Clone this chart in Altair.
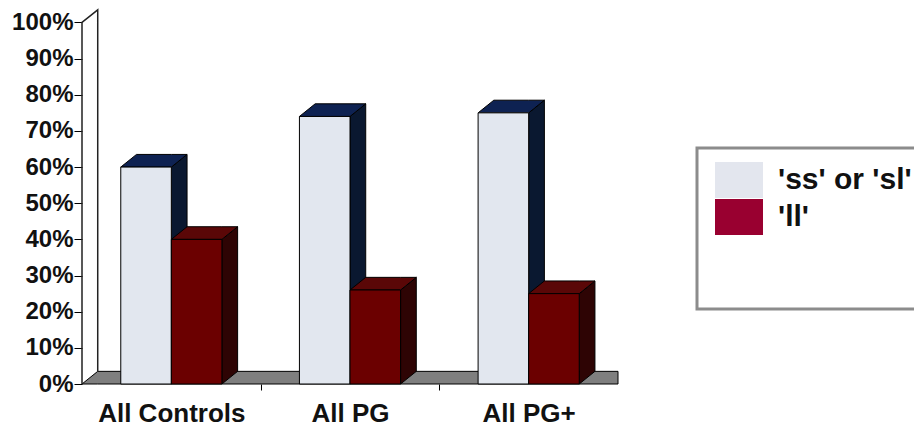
import json
import altair as alt
import pandas as pd

# ---- data ----
categories = ["All Controls", "All PG", "All PG+"]
series_names = ["'ss' or 'sl'", "'ll'"]
ss_or_sl = [60, 74, 75]
ll = [40, 26, 25]
y_ticks = [0, 10, 20, 30, 40, 50, 60, 70, 80, 90, 100]

# ---- styling ----
front_colors = {"'ss' or 'sl'": "#e2e7ef", "'ll'": "#6b0000"}
top_colors = {"'ss' or 'sl'": "#0e2252", "'ll'": "#5a0707"}
side_colors = {"'ss' or 'sl'": "#0a1830", "'ll'": "#2e0404"}
legend_colors = ["#e3e6ee", "#990030"]
FONT = "Liberation Sans"

BW = 0.283   # bar width in category units
DX = 0.088   # 3D depth, x (category units)
DY = 3.5     # 3D depth, y (percent units)
YMAX = 104

rows, tops, sides = [], [], []
for i, c in enumerate(categories):
    for j, (s, vals) in enumerate(zip(series_names, [ss_or_sl, ll])):
        v = vals[i]
        x0 = i + 0.5 - BW + j * BW
        x1 = x0 + BW
        bid = f"{i}-{j}"
        rows.append(dict(cat=c, series=s, bar=bid, v=v, base=0, x0=x0, x1=x1))
        for px, py, py2 in [(x0, v, v), (x0 + DX, v + DY, v), (x1, v + DY, v), (x1 + DX, v + DY, v + DY)]:
            tops.append(dict(series=s, bar=bid, x=px, y=py, y2=py2))
        for px, py, py2 in [(x1, v, 0), (x1 + DX, v + DY, DY)]:
            sides.append(dict(series=s, bar=bid, x=px, y=py, y2=py2))

bars = pd.DataFrame(rows)
tops = pd.DataFrame(tops)
sides = pd.DataFrame(sides)

floor = pd.DataFrame([dict(x=0, y=0, y2=0), dict(x=DX, y=DY, y2=0), dict(x=len(categories), y=DY, y2=0)])
wall = pd.DataFrame([dict(o=0, x=0, y=0), dict(o=1, x=0, y=100), dict(o=2, x=DX, y=100 + DY), dict(o=3, x=DX, y=DY)])

xscale = alt.Scale(domain=[0, len(categories)], nice=False, zero=False)
yscale = alt.Scale(domain=[0, YMAX], nice=False, zero=False)

cat_js = "[" + ",".join(json.dumps(c) for c in categories) + "]"
xaxis = alt.Axis(
    values=[0.5, 1, 1.5, 2, 2.5],
    labelExpr=f"datum.value % 1 === 0 ? '' : {cat_js}[floor(datum.value)]",
    tickOpacity={"condition": {"test": "datum.value % 1 === 0", "value": 1}, "value": 0},
    tickSize=6, tickColor="black", domain=False, grid=False,
    labelFont=FONT, labelFontSize=26, labelFontWeight="bold", labelColor="#111",
    labelPadding=10, labelOverlap=False, labelFlush=False, labelAngle=0, title=None,
)
yaxis = alt.Axis(
    values=y_ticks, labelExpr="datum.value + '%'",
    tickSize=8, tickColor="black", domain=False, grid=False,
    labelFont=FONT, labelFontSize=24, labelFontWeight="bold", labelColor="#111",
    labelPadding=1, title=None,
)


def X(f):
    return alt.X(f"{f}:Q", scale=xscale, axis=xaxis)


def Y(f):
    return alt.Y(f"{f}:Q", scale=yscale, axis=yaxis)


floor_layer = alt.Chart(floor).mark_area(color="#7f7f7f", stroke="black", strokeWidth=1).encode(
    x=X("x"), y=Y("y"), y2="y2"
)
wall_layer = alt.Chart(wall).mark_line(color="#222", strokeWidth=1.5).encode(
    x=X("x"), y=Y("y"), order="o:Q"
)

layers = [floor_layer, wall_layer]
for s in series_names:
    side = alt.Chart(sides[sides.series == s]).mark_area(
        color=side_colors[s], stroke="black", strokeWidth=1
    ).encode(x=X("x"), y=Y("y"), y2="y2", detail="bar:N")
    top = alt.Chart(tops[tops.series == s]).mark_area(
        color=top_colors[s], stroke="black", strokeWidth=1
    ).encode(x=X("x"), y=Y("y"), y2="y2", detail="bar:N")
    front = alt.Chart(bars[bars.series == s]).mark_rect(
        color=front_colors[s], stroke="black", strokeWidth=1
    ).encode(x=X("x0"), x2="x1", y=Y("v"), y2="base")
    layers += [side, top, front]

sym_path = "M-1.263,-0.947H1.263V0.947H-1.263Z"
legend_layer = alt.Chart(bars).mark_point(opacity=0).encode(
    x=X("x0"), y=Y("v"),
    fill=alt.Fill(
        "series:N",
        scale=alt.Scale(domain=series_names, range=legend_colors),
        legend=alt.Legend(
            title=" ", orient="none", legendX=615, legendY=140, padding=13,
            symbolType=sym_path, symbolSize=1444, symbolOffset=10, symbolOpacity=1,
            symbolStrokeWidth=0, labelOffset=20, rowPadding=0,
            labelFont=FONT, labelFontSize=30, labelFontWeight="bold", labelColor="#111",
            labelLimit=400, titleOrient="bottom", titlePadding=51, titleFontSize=10,
            strokeColor="#8c8c8c", fillColor="white",
        ),
    ),
)
layers.append(legend_layer)

chart = alt.layer(*layers).properties(
    width=536, height=376,
    autosize=alt.AutoSizeParams(type="none"),
    padding={"left": 74, "top": 0, "right": 296, "bottom": 43},
    background="white",
).configure_view(stroke=None).configure_legend(strokeWidth=3)

chart.save("out.html", embed_options={"renderer": "svg", "actions": False})
